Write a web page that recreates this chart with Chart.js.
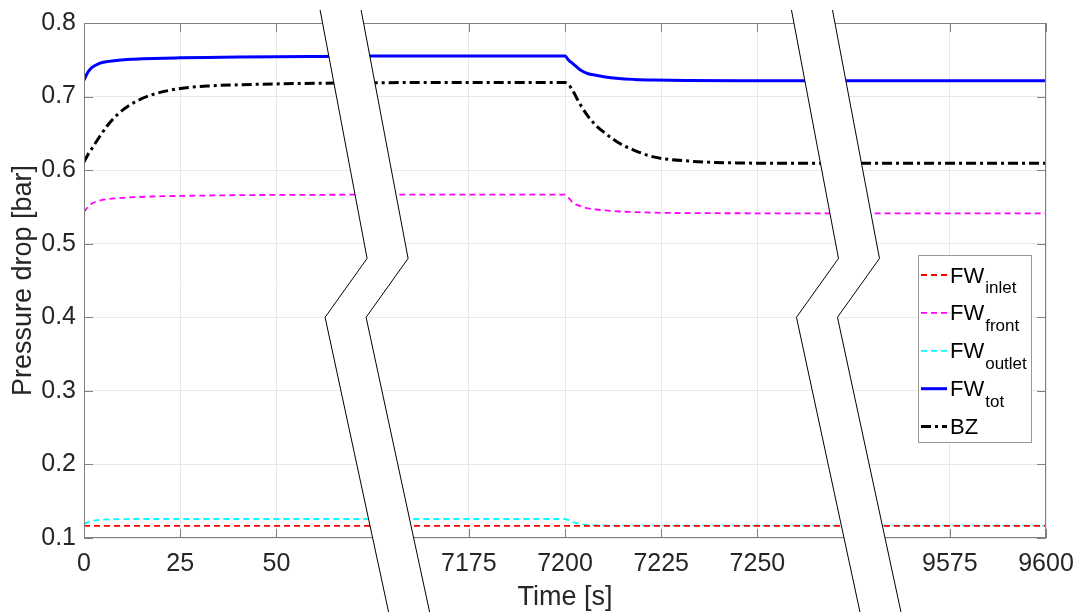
<!DOCTYPE html>
<html lang="en">
<head>
  <meta charset="UTF-8">
  <title>Pressure drop</title>
  <script src="https://cdn.jsdelivr.net/npm/chart.js"></script>
  <style>
    html, body { margin: 0; padding: 0; background: #fff; overflow: hidden; }
    .wrap { width: 1080px; height: 612px; }
  </style>
</head>
<body>
  <div class="wrap"><canvas id="chart" width="1080" height="612"></canvas></div>

  <script>
    // time [s] - only the three windows visible on the broken axis
    const times = [0, 1, 2, 4, 6, 9, 13, 18, 25, 32, 40, 50, 62, 75,
      7160, 7180, 7200, 7201, 7202, 7204, 7206, 7208, 7210, 7214, 7218, 7223, 7232, 7245, 7260, 7275,
      9555, 9575, 9600];

    // pressure drop [bar]
    const fwInlet = [0.1165, 0.1165, 0.1165, 0.1165, 0.1165, 0.1165, 0.1165, 0.1165, 0.1165, 0.1165, 0.1165, 0.1165, 0.1165, 0.1165,
      0.1165, 0.1165, 0.1165, 0.1165, 0.1165, 0.1165, 0.1165, 0.1165, 0.1165, 0.1165, 0.1165, 0.1165, 0.1165, 0.1165, 0.1165, 0.1165,
      0.1165, 0.1165, 0.1165];
    const fwFront = [0.543, 0.550, 0.5545, 0.5585, 0.5605, 0.562, 0.5632, 0.5642, 0.565, 0.5655, 0.566, 0.5663, 0.5665, 0.5667,
      0.5667, 0.5667, 0.5667, 0.562, 0.556, 0.551, 0.548, 0.5465, 0.5455, 0.5438, 0.543, 0.5422, 0.5416, 0.5414, 0.5413, 0.5413,
      0.5413, 0.5413, 0.5413];
    const fwOutlet = [0.119, 0.1215, 0.123, 0.1245, 0.1252, 0.1256, 0.1258, 0.1258, 0.1258, 0.1258, 0.1258, 0.1258, 0.1258, 0.1258,
      0.1258, 0.1258, 0.1258, 0.124, 0.1215, 0.119, 0.1178, 0.1172, 0.117, 0.1168, 0.1168, 0.1168, 0.1168, 0.1168, 0.1168, 0.1168,
      0.1168, 0.1168, 0.1168];
    const fwTot = [0.7225, 0.733, 0.7395, 0.745, 0.7475, 0.7495, 0.7508, 0.7518, 0.7526, 0.7532, 0.7537, 0.7542, 0.7546, 0.755,
      0.755, 0.755, 0.755, 0.749, 0.745, 0.736, 0.731, 0.729, 0.727, 0.7245, 0.7233, 0.7225, 0.7219, 0.7216, 0.7215, 0.7215,
      0.7215, 0.7215, 0.7215];
    const bz = [0.611, 0.621, 0.629, 0.645, 0.660, 0.677, 0.692, 0.703, 0.711, 0.7143, 0.716, 0.7172, 0.7182, 0.7188,
      0.719, 0.719, 0.719, 0.716, 0.708, 0.689, 0.673, 0.661, 0.652, 0.637, 0.627, 0.618, 0.6124, 0.6098, 0.6093, 0.6093,
      0.6093, 0.6093, 0.6093];

    const tickTimes = [0, 25, 50, 7175, 7200, 7225, 7250, 9575, 9600];

    // broken time axis: each window is shifted onto one continuous scale
    const segStart = [0, 7000, 9000];
    const segShift = [0, 7075, 9350];
    const breakAt = [75, 197.5];   // where the break crosses the x axis

    function toAxis(t) {
      let s = 0;
      segStart.forEach((from, i) => { if (t >= from) s = segShift[i]; });
      return t - s;
    }

    const FONT = '"Liberation Sans", Arial, Helvetica, sans-serif';
    const TXT = '#262626';

    const series = [
      { main: 'FW', sub: 'inlet',  data: fwInlet,  color: '#ff0000', width: 1.8, dash: [6, 4] },
      { main: 'FW', sub: 'front',  data: fwFront,  color: '#ff00ff', width: 1.8, dash: [6, 4] },
      { main: 'FW', sub: 'outlet', data: fwOutlet, color: '#00ffff', width: 1.8, dash: [6, 4] },
      { main: 'FW', sub: 'tot',    data: fwTot,    color: '#0000ff', width: 3,   dash: [] },
      { main: 'BZ', sub: '',       data: bz,       color: '#000000', width: 3,   dash: [10, 4, 3, 4] }
    ];

    const decor = {
      id: 'decor',
      afterDatasetsDraw(chart) {
        const ctx = chart.ctx;
        const a = chart.chartArea;
        const xs = chart.scales.x, ys = chart.scales.y;
        ctx.save();

        // box and inward ticks
        ctx.strokeStyle = '#7f7f7f';
        ctx.lineWidth = 1;
        ctx.setLineDash([]);
        ctx.strokeRect(a.left + 0.5, a.top + 0.5, a.right - a.left - 1, a.bottom - a.top - 1);
        ctx.beginPath();
        xs.ticks.forEach(t => {
          const px = Math.round(xs.getPixelForValue(t.value)) + 0.5;
          ctx.moveTo(px, a.bottom); ctx.lineTo(px, a.bottom - 9);
          ctx.moveTo(px, a.top); ctx.lineTo(px, a.top + 9);
        });
        ys.ticks.forEach(t => {
          const py = Math.round(ys.getPixelForValue(t.value)) + 0.5;
          ctx.moveTo(a.left, py); ctx.lineTo(a.left + 9, py);
          ctx.moveTo(a.right, py); ctx.lineTo(a.right - 9, py);
        });
        ctx.stroke();

        // axis break marks
        const H = chart.height;
        breakAt.forEach(u => {
          const xb = xs.getPixelForValue(u);
          const left = [
            [xb - 52.5, 10],
            [xb - 5.5, ys.getPixelForValue(0.48)],
            [xb - 47.5, ys.getPixelForValue(0.40)],
            [xb + 16, H]
          ];
          const right = left.map(p => [p[0] + 41, p[1]]);
          ctx.beginPath();
          left.forEach((p, i) => i ? ctx.lineTo(p[0], p[1]) : ctx.moveTo(p[0], p[1]));
          right.slice().reverse().forEach(p => ctx.lineTo(p[0], p[1]));
          ctx.closePath();
          ctx.fillStyle = '#fff';
          ctx.fill();
          ctx.strokeStyle = '#000';
          ctx.lineWidth = 1;
          [left, right].forEach(line => {
            ctx.beginPath();
            line.forEach((p, i) => i ? ctx.lineTo(p[0], p[1]) : ctx.moveTo(p[0], p[1]));
            ctx.stroke();
          });
        });

        // legend with subscripts
        const bw = 113, bh = 187;
        const bx = a.right - 15 - bw, by = a.top + 232;
        ctx.fillStyle = '#fff';
        ctx.fillRect(bx, by, bw, bh);
        ctx.strokeStyle = '#999999';
        ctx.strokeRect(bx + 0.5, by + 0.5, bw, bh);
        series.forEach((s, i) => {
          const cy = by + 20 + i * 37.9;
          ctx.strokeStyle = s.color;
          ctx.lineWidth = s.width;
          ctx.setLineDash(s.dash);
          ctx.beginPath();
          ctx.moveTo(bx + 3, cy); ctx.lineTo(bx + 29, cy);
          ctx.stroke();
          ctx.setLineDash([]);
          ctx.fillStyle = '#000';
          ctx.textBaseline = 'alphabetic';
          ctx.textAlign = 'left';
          ctx.font = '22px ' + FONT;
          ctx.fillText(s.main, bx + 32, cy + 7.5);
          const w = ctx.measureText(s.main).width;
          if (s.sub) {
            ctx.font = '17px ' + FONT;
            ctx.fillText(s.sub, bx + 32 + w + 1, cy + 18);
          }
        });
        ctx.restore();
      }
    };

    new Chart(document.getElementById('chart'), {
      type: 'line',
      data: {
        datasets: series.map(s => ({
          label: s.main + s.sub,
          data: times.map((t, i) => ({ x: toAxis(t), y: s.data[i] })),
          borderColor: s.color,
          borderWidth: s.width,
          borderDash: s.dash,
          pointRadius: 0,
          fill: false,
          cubicInterpolationMode: 'monotone'
        }))
      },
      options: {
        responsive: false,
        animation: false,
        devicePixelRatio: 1,
        layout: { padding: { left: 0, top: 23, right: 34, bottom: 0 } },
        plugins: { legend: { display: false }, tooltip: { enabled: false } },
        scales: {
          x: {
            type: 'linear',
            min: 0, max: 250,
            afterBuildTicks: axis => { axis.ticks = tickTimes.map(t => ({ value: toAxis(t) })); },
            afterFit: axis => { axis.height = 74; axis.paddingLeft = 0; axis.paddingRight = 0; },
            ticks: {
              autoSkip: false, maxRotation: 0, padding: 11,
              color: TXT, font: { family: FONT, size: 25 },
              callback: (v, i) => String(tickTimes[i])
            },
            grid: { color: '#e9e9e9', drawTicks: false },
            border: { display: false },
            title: {
              display: true, text: 'Time [s]', color: TXT,
              font: { family: FONT, size: 27, lineHeight: 1.1 },
              padding: { top: 0, bottom: 0 }
            }
          },
          y: {
            min: 0.1, max: 0.8,
            afterFit: axis => { axis.width = 84; axis.paddingTop = 0; axis.paddingBottom = 0; },
            ticks: {
              stepSize: 0.1, padding: 8,
              color: TXT, font: { family: FONT, size: 25 },
              callback: v => v.toFixed(1)
            },
            grid: { color: '#e9e9e9', drawTicks: false },
            border: { display: false },
            title: {
              display: true, text: 'Pressure drop [bar]', color: TXT,
              font: { family: FONT, size: 27, lineHeight: 1.1 },
              padding: { top: 9, bottom: 0 }
            }
          }
        }
      },
      plugins: [decor]
    });
  </script>
</body>
</html>
